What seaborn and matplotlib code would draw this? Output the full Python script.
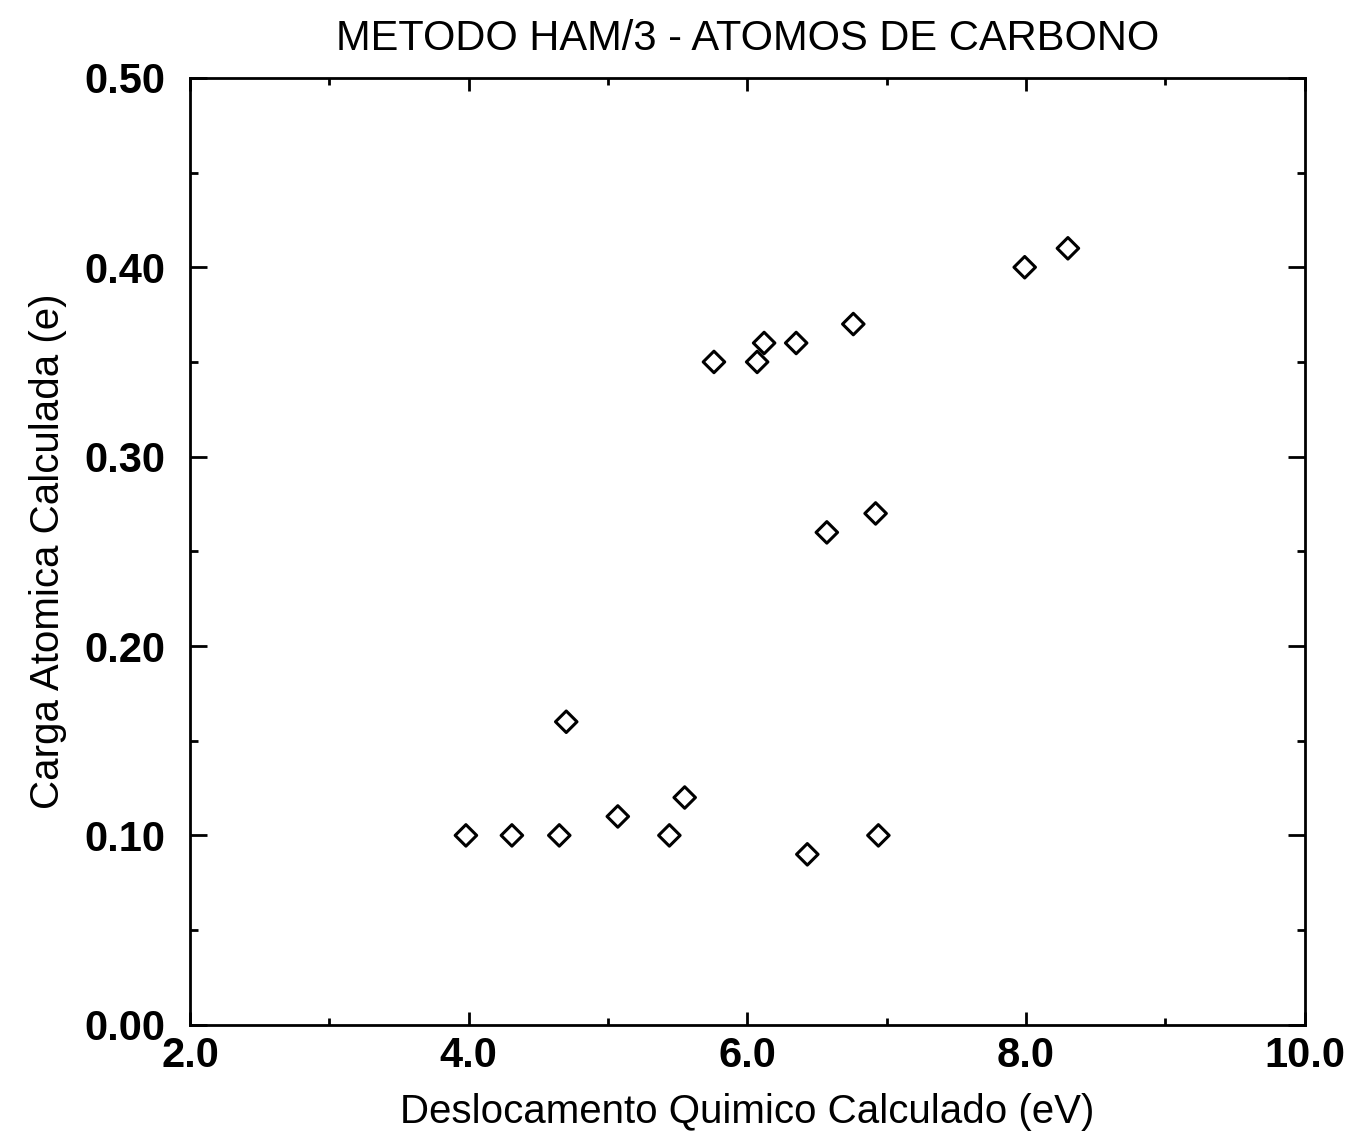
import pandas as pd
import matplotlib
matplotlib.use("Agg")
import matplotlib.pyplot as plt
import seaborn as sns
from matplotlib.ticker import MultipleLocator, FormatStrFormatter

# chemical shift (eV) and atomic charge (e)
deslocamento = [3.98, 4.31, 4.65, 4.70, 5.07, 5.44, 5.55, 5.76, 6.07, 6.12,
                6.35, 6.76, 6.43, 6.57, 6.92, 6.94, 7.99, 8.30]
carga = [0.10, 0.10, 0.10, 0.16, 0.11, 0.10, 0.12, 0.35, 0.35, 0.36,
         0.36, 0.37, 0.09, 0.26, 0.27, 0.10, 0.40, 0.41]

df = pd.DataFrame({"deslocamento": deslocamento, "carga": carga})

sns.set_style("ticks")
plt.rcParams["font.family"] = ["Liberation Sans", "DejaVu Sans"]
plt.rcParams["text.color"] = "black"
plt.rcParams["axes.labelcolor"] = "black"
plt.rcParams["xtick.color"] = "black"
plt.rcParams["ytick.color"] = "black"

fig = plt.figure(figsize=(13.62, 11.45), dpi=100)
ax = fig.add_axes([0.1395, 0.105, 0.8185, 0.827])

sns.scatterplot(data=df, x="deslocamento", y="carga", ax=ax, marker="D",
                s=120, facecolor="none", edgecolor="black", linewidth=2.2)

ax.set_xlim(2.0, 10.0)
ax.set_ylim(0.0, 0.5)
ax.xaxis.set_major_locator(MultipleLocator(2.0))
ax.xaxis.set_minor_locator(MultipleLocator(1.0))
ax.yaxis.set_major_locator(MultipleLocator(0.1))
ax.yaxis.set_minor_locator(MultipleLocator(0.05))
ax.xaxis.set_major_formatter(FormatStrFormatter("%.1f"))
ax.yaxis.set_major_formatter(FormatStrFormatter("%.2f"))

ax.tick_params(which="both", direction="in", top=True, right=True,
               color="black", width=2)
ax.tick_params(axis="x", which="major", length=9.5, pad=8)
ax.tick_params(axis="x", which="minor", length=5)
ax.tick_params(axis="y", which="major", length=12, pad=18)
ax.tick_params(axis="y", which="minor", length=6)
for lbl in ax.get_xticklabels() + ax.get_yticklabels():
    lbl.set_fontsize(30)
    lbl.set_fontweight("bold")

for sp in ax.spines.values():
    sp.set_linewidth(2)
    sp.set_color("black")

ax.set_xlabel("Deslocamento Quimico Calculado (eV)", fontsize=29, labelpad=12)
ax.set_ylabel("Carga Atomica Calculada (e)", fontsize=29, labelpad=12)
ax.set_title("METODO HAM/3 - ATOMOS DE CARBONO", fontsize=30, pad=20)

fig.savefig("out.png", dpi=100)
plt.close(fig)
